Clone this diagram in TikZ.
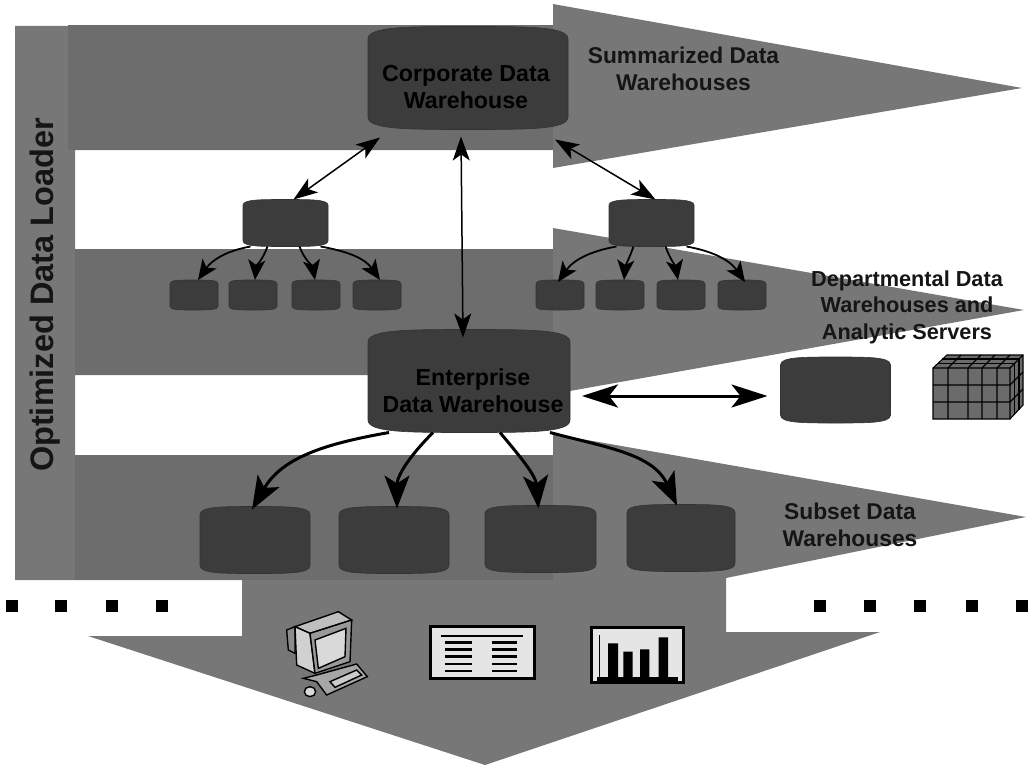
\documentclass[tikz,border=0pt]{standalone}
\usepackage{fontspec}
\setmainfont{Liberation Sans}
\usetikzlibrary{arrows.meta}
\definecolor{band}{HTML}{777777}
\definecolor{bandd}{HTML}{6D6D6D}
\definecolor{cyl}{HTML}{3C3C3C}
\definecolor{ink}{HTML}{151515}
\makeatletter
\pgfdeclareshape{drum}{
  \inheritsavedanchors[from=rectangle]
  \inheritanchorborder[from=rectangle]
  \inheritanchor[from=rectangle]{center}
  \inheritanchor[from=rectangle]{north}
  \inheritanchor[from=rectangle]{south}
  \inheritanchor[from=rectangle]{east}
  \inheritanchor[from=rectangle]{west}
  \backgroundpath{
    \southwest \edef\dXa{\the\pgf@x}\edef\dYa{\the\pgf@y}
    \northeast \edef\dXb{\the\pgf@x}\edef\dYb{\the\pgf@y}
    \pgfmathsetlengthmacro\dB{0.12*(\dYb-\dYa)}
    \pgfmathsetlengthmacro\dC{0.5*(\dXa+\dXb)}
    \pgfmathsetlengthmacro\dL{\dXa+0.2*(\dXb-\dXa)}
    \pgfmathsetlengthmacro\dR{\dXb-0.2*(\dXb-\dXa)}
    \pgfmathsetlengthmacro\dT{\dYb-\dB}
    \pgfmathsetlengthmacro\dU{\dYa+\dB}
    \pgfpathmoveto{\pgfqpoint{\dXa}{\dU}}
    \pgfpathlineto{\pgfqpoint{\dXa}{\dT}}
    \pgfpathcurveto{\pgfqpoint{\dXa}{\dYb}}{\pgfqpoint{\dL}{\dYb}}{\pgfqpoint{\dC}{\dYb}}
    \pgfpathcurveto{\pgfqpoint{\dR}{\dYb}}{\pgfqpoint{\dXb}{\dYb}}{\pgfqpoint{\dXb}{\dT}}
    \pgfpathlineto{\pgfqpoint{\dXb}{\dU}}
    \pgfpathcurveto{\pgfqpoint{\dXb}{\dYa}}{\pgfqpoint{\dR}{\dYa}}{\pgfqpoint{\dC}{\dYa}}
    \pgfpathcurveto{\pgfqpoint{\dL}{\dYa}}{\pgfqpoint{\dXa}{\dYa}}{\pgfqpoint{\dXa}{\dU}}
    \pgfpathclose
  }
}
\makeatother
\tikzset{
  db/.style={shape=drum,fill=cyl,draw=black!80,line width=0.6pt,inner sep=0pt,outer sep=0pt},
  link/.style={line width=1.5pt,black,{Stealth[length=24pt,width=17pt,inset=6pt]}-{Stealth[length=24pt,width=17pt,inset=6pt]}},
  fan/.style={line width=1.8pt,black,-{Stealth[length=20pt,width=17pt,inset=5pt]}},
  big/.style={line width=3pt,black,-{Stealth[length=33pt,width=25pt,inset=8pt]}},
  wide/.style={line width=3pt,black,{Stealth[length=36pt,width=23pt,inset=9pt]}-{Stealth[length=36pt,width=23pt,inset=9pt]}},
  lab/.style={align=center,inner sep=0pt,text=ink,font=\bfseries\fontsize{22.8}{27.5}\selectfont},
  inlab/.style={align=center,inner sep=0pt,text=black,font=\bfseries\fontsize{23.2}{27}\selectfont},
  dot/.style={fill=black,minimum size=12pt,inner sep=0pt,shape=rectangle},
  icon/.style={line width=1.4pt,draw=black},
  grid/.style={line width=1.1pt,draw=black},
}
\begin{document}
\begin{tikzpicture}[x=1pt,y=-1pt]
\useasboundingbox (0,0) rectangle (1030,768);
\fill[white] (0,0) rectangle (1030,768);
% the grey band
\fill[band] (15,26) -- (553,25) -- (553,4) -- (1022,88) -- (553,168) -- (553,150) -- (75,150)
  -- (75,249) -- (553,249) -- (553,228) -- (1024,310) -- (553,394) -- (553,375) -- (75,375)
  -- (75,455) -- (553,455) -- (553,434) -- (1026,517) -- (726,578) -- (726,632) -- (880,632)
  -- (485,765) -- (88,636) -- (242,636) -- (242,580) -- (15,580) -- cycle;
\fill[bandd] (68,25) rectangle (553,150);
\fill[bandd] (75,249) rectangle (553,375);
\fill[bandd] (75,455) rectangle (553,580);
% data stores
\node[db,minimum width=200pt,minimum height=103pt] (corp) at (468,78) {};
\node[db,minimum width=85pt,minimum height=47pt] (dl) at (285.5,223) {};
\node[db,minimum width=85pt,minimum height=47pt] (dr) at (651.5,223) {};
\node[db,minimum width=48pt,minimum height=30pt] (l1) at (194,295) {};
\node[db,minimum width=48pt,minimum height=30pt] (l2) at (253,295) {};
\node[db,minimum width=48pt,minimum height=30pt] (l3) at (316,295) {};
\node[db,minimum width=48pt,minimum height=30pt] (l4) at (377,295) {};
\node[db,minimum width=48pt,minimum height=30pt] (r1) at (560,295) {};
\node[db,minimum width=48pt,minimum height=30pt] (r2) at (620,295) {};
\node[db,minimum width=48pt,minimum height=30pt] (r3) at (681,295) {};
\node[db,minimum width=48pt,minimum height=30pt] (r4) at (742,295) {};
\node[db,minimum width=202pt,minimum height=103pt] (ent) at (469,381) {};
\node[db,minimum width=110pt,minimum height=66pt] (side) at (835.5,390) {};
\node[db,minimum width=110pt,minimum height=67pt] (s1) at (255,540) {};
\node[db,minimum width=110pt,minimum height=67pt] (s2) at (394,540) {};
\node[db,minimum width=111pt,minimum height=67pt] (s3) at (540.5,539) {};
\node[db,minimum width=108pt,minimum height=67pt] (s4) at (681,538) {};
% connectors
\draw[link] ([xshift=-88pt,yshift=-8pt]corp.south) -- ([xshift=8pt]dl.north);
\draw[link] ([xshift=87pt,yshift=-10pt]corp.south) -- ([xshift=4pt]dr.north);
\draw[link] ([xshift=-7pt,yshift=-7pt]corp.south) -- ([xshift=-6pt,yshift=-8pt]ent.north);
\draw[fan] ([xshift=-35pt]dl.south) to[out=190,in=55] ([xshift=4pt]l1.north);
\draw[fan] ([xshift=-18pt]dl.south) to[out=-110,in=85] ([xshift=2pt]l2.north);
\draw[fan] ([xshift=14pt]dl.south) to[out=-70,in=100] ([xshift=-1pt]l3.north);
\draw[fan] ([xshift=35pt]dl.south) to[out=-10,in=125] ([xshift=3pt]l4.north);
\draw[fan] ([xshift=-35pt]dr.south) to[out=190,in=55] ([xshift=-2pt,yshift=-2pt]r1.north);
\draw[fan] ([xshift=-18pt]dr.south) to[out=-110,in=85] ([xshift=4pt]r2.north);
\draw[fan] ([xshift=14pt]dr.south) to[out=-70,in=100] ([xshift=-3pt]r3.north);
\draw[fan] ([xshift=35pt]dr.south) to[out=-10,in=125] ([xshift=3pt,yshift=-2pt]r4.north);
\draw[wide] ([xshift=12pt,yshift=-15pt]ent.east) -- ([xshift=-13pt,yshift=-6pt]side.west);
\draw[big] ([xshift=-80pt]ent.south) to[out=190,in=60] ([xshift=-3pt,yshift=-3pt]s1.north);
\draw[big] ([xshift=-36pt]ent.south) to[out=-135,in=90] ([xshift=3pt,yshift=-2pt]s2.north);
\draw[big] ([xshift=31pt]ent.south) to[out=-50,in=95] ([xshift=-2pt,yshift=-3pt]s3.north);
\draw[big] ([xshift=81pt]ent.south) to[out=-15,in=115] ([xshift=-4pt,yshift=-1pt]s4.north);
% labels
\node[inlab] (tc) at (466,87) {Corporate Data\\Warehouse};
\node[inlab] (te) at (473,391) {Enterprise\\Data Warehouse};
\node[lab] (t1) at (683.5,69) {Summarized Data\\Warehouses};
\node[lab,font=\bfseries\fontsize{21.7}{26.5}\selectfont] (t2) at (907,307) {Departmental Data\\Warehouses and\\Analytic Servers};
\node[lab] (t3) at (850,525) {Subset Data\\Warehouses};
\node[rotate=90,inner sep=0pt,text=ink,font=\fontsize{32.5}{36}\selectfont\bfseries] (t4) at (45,295) {Optimized Data Loader};
% dotted line
\foreach \x [count=\i] in {12,61,112,162,820,870,920,972,1022}
  \node[dot] (d\i) at (\x,606) {};
% cube
\filldraw[grid,fill=black!58] (933,368) -- (947,355) -- (1023,355) -- (1023,405) -- (1010,419) -- (933,419) -- cycle;
\draw[grid] (933,368) -- (1010,368) -- (1010,419) (1010,368) -- (1023,355);
\foreach \x in {948,968,982,997}{ \draw[grid] (\x,368) -- (\x,419) (\x,368) -- ({\x+13},355); }
\foreach \y in {385,402}{ \draw[grid] (933,\y) -- (1010,\y) -- (1023,{\y-13}); }
\foreach \k in {4.5,9}{ \draw[grid] ({1010+\k},{368-\k}) -- ({1010+\k},{419-\k}) ({933+\k},{368-\k}) -- ({1010+\k},{368-\k}); }
% icons
\begin{scope}[shift={(260,590)},scale=1/3]
  \filldraw[icon,fill=black!45] (80,120) -- (105,110) -- (105,190) -- (85,180) -- cycle;
  \filldraw[icon,fill=black!25] (105,110) -- (235,65) -- (275,90) -- (150,130) -- cycle;
  \filldraw[icon,fill=black!18] (105,110) -- (150,130) -- (165,250) -- (110,225) -- cycle;
  \filldraw[icon,fill=black!40] (150,130) -- (275,90) -- (270,215) -- (165,250) -- cycle;
  \filldraw[icon,fill=black!15] (165,150) -- (258,115) -- (255,200) -- (175,235) -- cycle;
  \filldraw[icon,fill=black!35] (130,265) -- (170,255) -- (290,222) -- (322,260) -- (200,315) -- (170,275) -- cycle;
  \filldraw[icon,fill=black!20] (210,275) -- (290,240) -- (305,255) -- (225,292) -- cycle;
  \filldraw[icon,fill=black!15] (150,305) ellipse (17 and 15);
  \filldraw[line width=3pt,draw=black,fill=black!10] (510,110) rectangle (822,264);
  \draw[line width=2.5pt] (542,138) -- (790,138);
  \foreach \y in {157,178,200,222,243}{ \draw[line width=2.5pt] (555,\y) -- (635,\y) (695,\y) -- (772,\y); }
  \filldraw[line width=3pt,draw=black,fill=black!10] (995,113) rectangle (1270,278);
  \draw[line width=1.2pt] (1018,135) -- (1018,268);
  \fill (1044,160) rectangle (1074,268) (1090,185) rectangle (1118,268) (1140,178) rectangle (1168,268) (1196,142) rectangle (1224,268);
  \fill (1010,262) rectangle (1255,274);
\end{scope}
\end{tikzpicture}
\end{document}
